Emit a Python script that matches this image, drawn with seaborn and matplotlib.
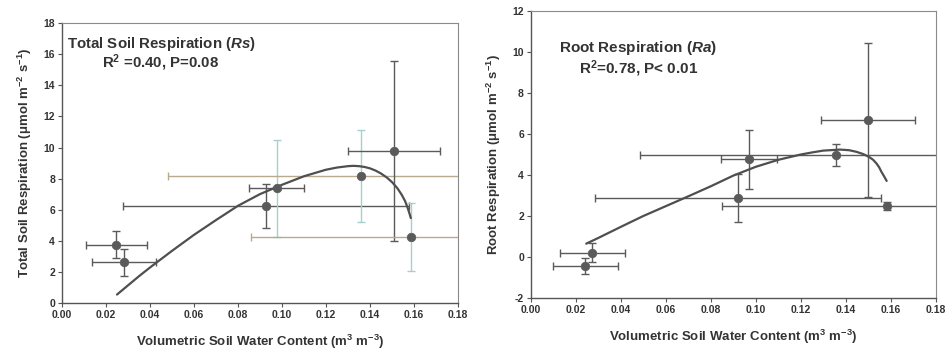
import matplotlib
matplotlib.use("Agg")
import matplotlib.pyplot as plt
import seaborn as sns
import pandas as pd

# Total soil respiration (Rs) panel
swc_rs = [0.0247, 0.0283, 0.0929, 0.0977, 0.1360, 0.1510, 0.1588]
swc_rs_err = [0.0140, 0.0145, 0.0650, 0.0125, 0.0880, 0.0210, 0.0730]
rs = [3.75, 2.61, 6.25, 7.37, 8.18, 9.79, 4.26]
rs_err = [0.85, 0.85, 1.40, 3.10, 2.95, 5.80, 2.20]
rs_fit_x = [0.0250, 0.03, 0.035, 0.04, 0.05, 0.06, 0.07, 0.08, 0.09, 0.10,
            0.11, 0.12, 0.125, 0.13, 0.1325, 0.135, 0.1375, 0.14, 0.1425,
            0.145, 0.1475, 0.15, 0.1525, 0.1545, 0.1560, 0.1572, 0.1580, 0.1586]
rs_fit_y = [0.54, 1.13, 1.72, 2.28, 3.35, 4.38, 5.33, 6.25, 7.00, 7.60,
            8.15, 8.57, 8.71, 8.80, 8.82, 8.80, 8.75, 8.66, 8.52,
            8.33, 8.09, 7.78, 7.38, 6.95, 6.55, 6.10, 5.75, 5.46]

# Root respiration (Ra) panel
swc_ra = [0.0242, 0.0274, 0.0921, 0.0970, 0.1355, 0.1500, 0.1582]
swc_ra_err = [0.0144, 0.0145, 0.0635, 0.0125, 0.0870, 0.0210, 0.0730]
ra = [-0.44, 0.21, 2.88, 4.76, 4.97, 6.68, 2.49]
ra_err = [0.40, 0.46, 1.15, 1.45, 0.52, 3.76, 0.20]
ra_fit_x = [0.0246, 0.03, 0.04, 0.05, 0.06, 0.07, 0.08, 0.09, 0.10, 0.11,
            0.12, 0.125, 0.13, 0.1375, 0.1415, 0.1448, 0.1478, 0.1504,
            0.1522, 0.1537, 0.1549, 0.1559, 0.1571, 0.1582]
ra_fit_y = [0.65, 0.93, 1.47, 2.00, 2.48, 2.96, 3.45, 3.97, 4.40, 4.74,
            5.00, 5.10, 5.19, 5.24, 5.21, 5.13, 5.02, 4.88,
            4.74, 4.56, 4.37, 4.15, 3.93, 3.71]

xticks = [0.00, 0.02, 0.04, 0.06, 0.08, 0.10, 0.12, 0.14, 0.16, 0.18]

sns.set_theme(style="white")
plt.rcParams['font.family'] = ['Liberation Sans', 'DejaVu Sans']
plt.rcParams['font.weight'] = 'bold'
plt.rcParams['mathtext.fontset'] = 'custom'
plt.rcParams['mathtext.rm'] = 'Liberation Sans:bold'
plt.rcParams['mathtext.bf'] = 'Liberation Sans:bold'
plt.rcParams['mathtext.it'] = 'Liberation Sans:italic:bold'
plt.rcParams['mathtext.bfit'] = 'Liberation Sans:italic:bold'
plt.rcParams['mathtext.default'] = 'bf'

fig = plt.figure(figsize=(9.48, 3.56), dpi=100)
ax1 = fig.add_axes([0.0654, 0.149, 0.4176, 0.786])
ax2 = fig.add_axes([0.560, 0.163, 0.427, 0.806])

dark = '#5a5a5a'
teal = '#a6cfcf'
tan = '#b9a98f'
txt = '#333333'


def draw_panel(ax, x, xerr, y, yerr, fx, fy, ycolors, xcolors):
    for xi, xe, yi, ye, yc, xc in zip(x, xerr, y, yerr, ycolors, xcolors):
        ax.errorbar(xi, yi, xerr=xe, fmt='none', ecolor=xc, elinewidth=1.0,
                    capsize=3, capthick=1.0, zorder=2)
        ax.errorbar(xi, yi, yerr=ye, fmt='none', ecolor=yc, elinewidth=1.0,
                    capsize=3, capthick=1.0, zorder=2)
    fit = pd.DataFrame({'x': fx, 'y': fy})
    sns.lineplot(data=fit, x='x', y='y', ax=ax, color='#4f4f4f', lw=1.6,
                 sort=False, zorder=3)
    pts = pd.DataFrame({'x': x, 'y': y})
    sns.scatterplot(data=pts, x='x', y='y', ax=ax, color=dark, s=38,
                    edgecolor=dark, linewidth=0.5, zorder=4)
    ax.set_xlim(0, 0.18)
    ax.set_xticks(xticks)
    ax.set_xticklabels([f'{t:.2f}' for t in xticks])
    ax.tick_params(axis='both', labelsize=7.5, length=3, width=0.8,
                   direction='out', color='#555555', pad=2,
                   bottom=True, left=True, labelcolor=txt)
    for lab in ax.get_xticklabels() + ax.get_yticklabels():
        lab.set_fontweight('bold')
    for side in ['left', 'bottom']:
        ax.spines[side].set_color('#555555')
        ax.spines[side].set_linewidth(1.0)
    for side in ['top', 'right']:
        ax.spines[side].set_color('#8a8a8a')
        ax.spines[side].set_linewidth(0.8)
    ax.set_xlabel('Volumetric Soil Water Content (m$^{3}$ m$^{-3}$)',
                  fontsize=9.5, fontweight='bold', color=txt, labelpad=9)


draw_panel(ax1, swc_rs, swc_rs_err, rs, rs_err, rs_fit_x, rs_fit_y,
           [dark, dark, dark, teal, teal, dark, teal],
           [dark, dark, dark, dark, tan, dark, tan])
ax1.set_ylim(0, 18)
ax1.set_yticks(range(0, 19, 2))
ax1.set_yticklabels([str(v) for v in range(0, 19, 2)])
ax1.set_ylabel('Total Soil Respiration (\u03bcmol m$^{-2}$ s$^{-1}$)',
               fontsize=9.5, fontweight='bold', color=txt, labelpad=7)
ax1.text(0.013, 0.925, 'Total Soil Respiration ($\\mathbfit{Rs}$)',
         transform=ax1.transAxes, fontsize=10.8, fontweight='bold',
         color=txt, va='center')
ax1.text(0.248, 0.86, 'R$^{2}$ =0.40, P=0.08', transform=ax1.transAxes,
         fontsize=10.8, fontweight='bold', color=txt, va='center',
         ha='center')

draw_panel(ax2, swc_ra, swc_ra_err, ra, ra_err, ra_fit_x, ra_fit_y,
           [dark] * 7, [dark] * 7)
ax2.set_ylim(-2, 12)
ax2.set_yticks(range(-2, 13, 2))
ax2.set_yticklabels([str(v) for v in range(-2, 13, 2)])
ax2.set_ylabel('Root Respiration (\u03bcmol m$^{-2}$ s$^{-1}$)',
               fontsize=9.5, fontweight='bold', color=txt, labelpad=7)
ax2.text(0.07, 0.87, 'Root Respiration ($\\mathbfit{Ra}$)', transform=ax2.transAxes,
         fontsize=11, fontweight='bold', color=txt, va='center')
ax2.text(0.267, 0.80, 'R$^{2}$=0.78, P< 0.01', transform=ax2.transAxes,
         fontsize=11, fontweight='bold', color=txt, va='center',
         ha='center')

fig.savefig('out.png', dpi=100)
